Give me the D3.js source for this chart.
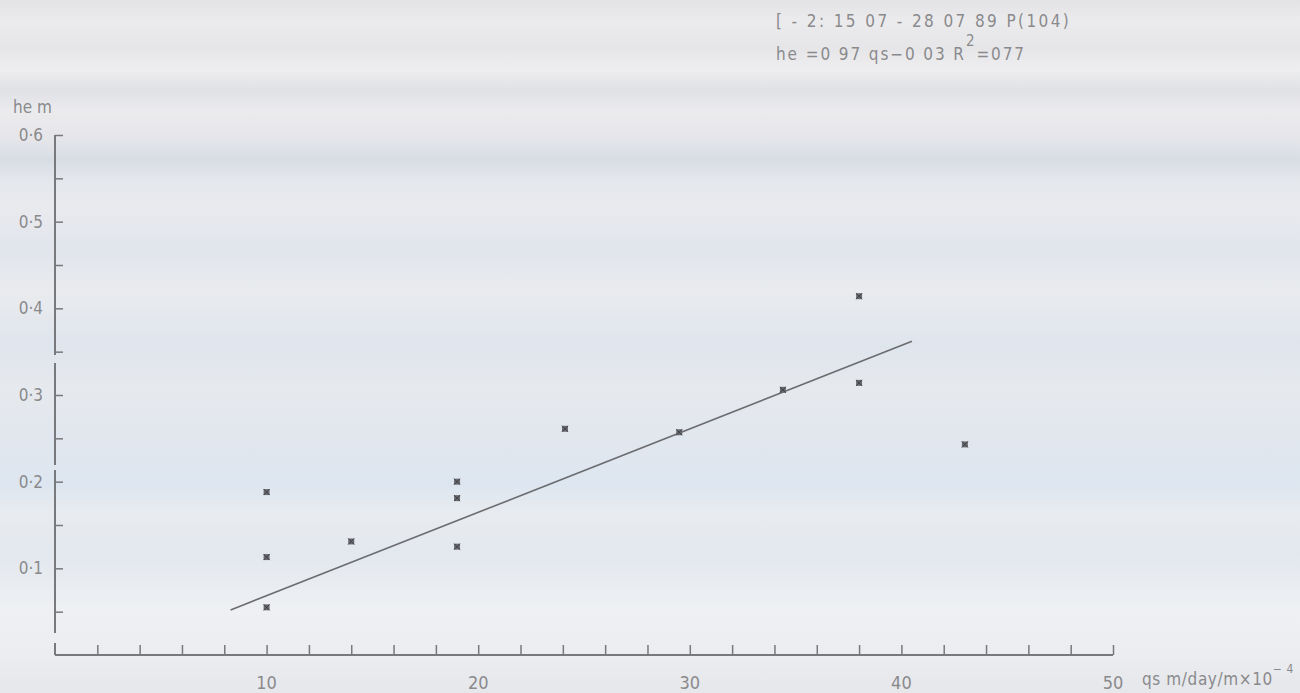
<!DOCTYPE html>
<html>
<head>
<meta charset="utf-8">
<script src="https://cdn.jsdelivr.net/npm/d3@7"></script>
<style>
  body { margin: 0; background: #e8ebef; }
  text { font-family: "Liberation Sans Narrow", "DejaVu Sans Condensed", sans-serif; fill: #8a8a8c; }
</style>
</head>
<body>
<div id="chart"></div>
<script>
const width = 1300, height = 693;
const margin = {top: 135, right: 185, bottom: 38, left: 55};

// observed points (qs, he)
const qsValues = [10, 10, 10, 14, 19, 19, 19, 24.1, 29.5, 34.4, 38, 38, 43];
const heValues = [0.188, 0.113, 0.055, 0.131, 0.200, 0.181, 0.125, 0.261, 0.257, 0.306, 0.414, 0.314, 0.243];

// fitted line end points
const fitQs = [8.3, 40.5];
const fitHe = [0.052, 0.362];

const xTickLabels = [10, 20, 30, 40, 50];
const yTickLabels = [0.1, 0.2, 0.3, 0.4, 0.5, 0.6];
const xMinorTicks = d3.range(2, 51, 2);
const yMinorTicks = d3.range(0.05, 0.61, 0.05);

const titleLine1 = "[ - 2:  15 07 - 28 07 89   P(104)";

let svg = d3.select("#chart")
  .append("svg")
    .attr("width", width)
    .attr("height", height);

// scanned paper background bands
let defs = svg.append("defs");
let grad = defs.append("linearGradient")
  .attr("id", "paper")
  .attr("x1", 0).attr("y1", 0).attr("x2", 0).attr("y2", 1);
[[0, "#e3e3e6"], [0.03, "#ebebed"], [0.07, "#e6e6e9"], [0.1, "#eeeef0"], [0.13, "#e0e1e5"],
 [0.16, "#ebebee"], [0.2, "#e6e6ea"], [0.23, "#d8dde5"], [0.26, "#e4e7ec"], [0.3, "#e9eaee"],
 [0.36, "#e1e5ec"], [0.42, "#e9ebee"], [0.5, "#dfe5ed"], [0.56, "#e6e9ed"], [0.62, "#e2e7ee"],
 [0.7, "#dde6f0"], [0.74, "#e8ebef"], [0.8, "#e3e8ee"], [0.88, "#eef0f3"], [0.94, "#ebedf0"], [1, "#e6e7eb"]]
  .forEach(s => grad.append("stop").attr("offset", s[0]).attr("stop-color", s[1]));
svg.append("rect").attr("width", width).attr("height", height).attr("fill", "url(#paper)");

let x = d3.scaleLinear().domain([0, 50]).range([margin.left, width - margin.right - 2]);
let y = d3.scaleLinear().domain([0, 0.6]).range([height - margin.bottom, margin.top]);

let axisColor = "#78797c";

// x axis
let xAxis = svg.append("g")
  .attr("transform", "translate(0," + y(0) + ")")
  .call(d3.axisBottom(x).tickValues(xMinorTicks).tickSize(-10).tickFormat(""));
xAxis.select(".domain").attr("stroke", axisColor).attr("stroke-width", 2).attr("d", "M" + x(0) + ",0H" + x(50));
xAxis.selectAll(".tick line").attr("stroke", axisColor).attr("stroke-width", 1.5);

svg.selectAll(".xlab")
  .data(xTickLabels)
  .enter().append("text")
    .attr("class", "xlab")
    .attr("x", d => x(d))
    .attr("y", 689)
    .attr("text-anchor", "middle")
    .attr("font-size", "18px")
    .text(d => d);

let xTitle = svg.append("text")
  .attr("x", 1142)
  .attr("y", 685)
  .attr("font-size", "17px")
  .attr("letter-spacing", "0.6px");
xTitle.append("tspan").text("qs m/day/m\u00d710");
xTitle.append("tspan").attr("dy", -12).attr("font-size", "12px").text("\u2212 4");

// y axis (scan shows small breaks in the drawn line)
let yAxis = svg.append("g")
  .attr("transform", "translate(" + x(0) + ",0)")
  .call(d3.axisLeft(y).tickValues(yMinorTicks).tickSize(-8).tickFormat(""));
yAxis.select(".domain")
  .attr("stroke", axisColor)
  .attr("stroke-width", 2)
  .attr("d", "M0," + y(0) + "V" + y(0.6))
  .attr("stroke-dasharray", "12,10,163,5,102,8,240");
yAxis.selectAll(".tick line").attr("stroke", axisColor).attr("stroke-width", 1.5);

svg.selectAll(".ylab")
  .data(yTickLabels)
  .enter().append("text")
    .attr("class", "ylab")
    .attr("x", 43)
    .attr("y", d => y(d) + 6)
    .attr("text-anchor", "end")
    .attr("font-size", "17px")
    .text(d => "0\u00b7" + Math.round(d * 10));

svg.append("text")
  .attr("x", 13)
  .attr("y", 113)
  .attr("font-size", "17px")
  .text("he m");

// fitted line
svg.append("line")
  .attr("x1", x(fitQs[0])).attr("y1", y(fitHe[0]))
  .attr("x2", x(fitQs[1])).attr("y2", y(fitHe[1]))
  .attr("stroke", "#6b6c70")
  .attr("stroke-width", 1.6);

// points
let pts = svg.selectAll(".pt")
  .data(qsValues)
  .enter().append("g")
    .attr("class", "pt")
    .attr("transform", (d, i) => "translate(" + x(d) + "," + y(heValues[i]) + ")");
pts.append("rect")
  .attr("x", -3).attr("y", -3).attr("width", 6).attr("height", 6)
  .attr("fill", "#6a6b70");
pts.append("path")
  .attr("d", "M-3,-3L3,3M3,-3L-3,3")
  .attr("stroke", "#3f4045")
  .attr("stroke-width", 1);

// caption top right
svg.append("text")
  .attr("x", 776)
  .attr("y", 27)
  .attr("font-size", "17px")
  .attr("letter-spacing", "2.4px")
  .text(titleLine1);

let cap2 = svg.append("text")
  .attr("x", 776)
  .attr("y", 60)
  .attr("font-size", "17px")
  .attr("letter-spacing", "1.9px");
cap2.append("tspan").text("he =0 97  qs\u22120 03  R");
cap2.append("tspan").attr("dy", -14).attr("font-size", "15px").text("2");
cap2.append("tspan").attr("dy", 14).text("=077");
</script>
</body>
</html>
